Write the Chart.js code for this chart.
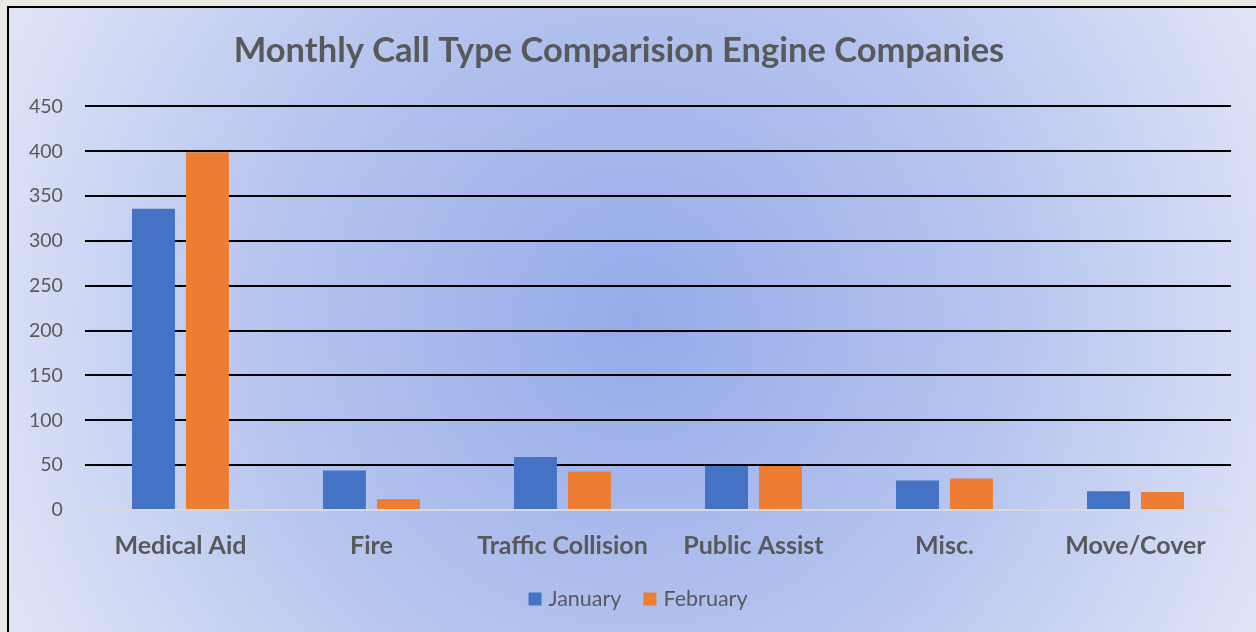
<!DOCTYPE html>
<html>
<head>
<meta charset="utf-8">
<script src="https://cdn.jsdelivr.net/npm/chart.js@4/dist/chart.umd.min.js"></script>
<style>
html,body{margin:0;padding:0;background:#e9e9e5;overflow:hidden;}
canvas{display:block;}
</style>
</head>
<body>
<canvas id="c" width="1256" height="632"></canvas>
<script>
const categories = ["Medical Aid", "Fire", "Traffic Collision", "Public Assist", "Misc.", "Move/Cover"];
const january = [336, 44, 59, 49, 33, 21];
const february = [399, 12, 43, 49, 35, 20];
const seriesNames = ["January", "February"];
const seriesColors = ["#4472c4", "#ed7d31"];
const titleText = "Monthly Call Type Comparision Engine Companies";

const FONT = "Lato, 'Open Sans', sans-serif";
const TEXT = '#595959';

const bgPlugin = {
  id: 'bg',
  beforeDraw(chart) {
    const ctx = chart.ctx;
    ctx.save();
    ctx.fillStyle = '#e9e9e5';
    ctx.fillRect(0, 0, chart.width, chart.height);
    const x0 = 8, y0 = 7, w = 1256, h = 640;
    const cx = 635, cy = 320;
    const g = ctx.createRadialGradient(cx, cy, 0, cx, cy, 700);
    g.addColorStop(0, '#95abe9');
    g.addColorStop(0.55, '#b8c6ef');
    g.addColorStop(1, '#e0e5f7');
    ctx.fillStyle = g;
    ctx.fillRect(x0, y0, w, h);
    ctx.strokeStyle = '#000';
    ctx.lineWidth = 2;
    ctx.strokeRect(x0, y0, w, h);
    ctx.restore();
  }
};

const legendPlugin = {
  id: 'customLegend',
  afterDraw(chart) {
    const ctx = chart.ctx;
    const ds = chart.data.datasets;
    const box = 13, gapText = 7, gapItem = 22, fontSize = 21.5;
    ctx.save();
    ctx.font = `${fontSize}px ${FONT}`;
    const widths = ds.map(d => box + gapText + ctx.measureText(d.label).width);
    const total = widths.reduce((a, b) => a + b, 0) + gapItem * (ds.length - 1);
    let x = 638 - total / 2;
    const cy = 599;
    ds.forEach((d, i) => {
      ctx.fillStyle = d.backgroundColor;
      ctx.fillRect(x, cy - box / 2, box, box);
      ctx.fillStyle = TEXT;
      ctx.textBaseline = 'middle';
      ctx.textAlign = 'left';
      ctx.fillText(d.label, x + box + gapText, cy);
      x += widths[i] + gapItem;
    });
    ctx.restore();
  }
};

new Chart(document.getElementById('c'), {
  type: 'bar',
  data: {
    labels: categories,
    datasets: [
      { label: seriesNames[0], data: january, backgroundColor: seriesColors[0], borderWidth: 0 },
      { label: seriesNames[1], data: february, backgroundColor: seriesColors[1], borderWidth: 0 }
    ]
  },
  plugins: [bgPlugin, legendPlugin],
  options: {
    responsive: false,
    animation: false,
    devicePixelRatio: 1,
    categoryPercentage: 0.565,
    barPercentage: 0.796,
    layout: { padding: { left: 7, right: 25, top: 10, bottom: 58 } },
    plugins: {
      tooltip: { enabled: false },
      legend: { display: false },
      title: {
        display: true,
        text: titleText,
        color: TEXT,
        font: { family: FONT, size: 34.5, weight: 'bold' },
        padding: { top: 20, bottom: 35 }
      }
    },
    scales: {
      x: {
        grid: { display: false },
        border: { display: false },
        ticks: {
          color: TEXT,
          font: { family: FONT, size: 25, weight: 'bold' },
          padding: 13,
          maxRotation: 0
        }
      },
      y: {
        min: 0,
        max: 450,
        border: { display: false },
        grid: {
          drawTicks: false,
          lineWidth: 2,
          color: (c) => c.tick && c.tick.value === 0 ? '#d9d9d9' : '#000000'
        },
        ticks: {
          stepSize: 50,
          color: TEXT,
          font: { family: FONT, size: 19.5 },
          padding: 22
        }
      }
    }
  }
});
</script>
</body>
</html>
